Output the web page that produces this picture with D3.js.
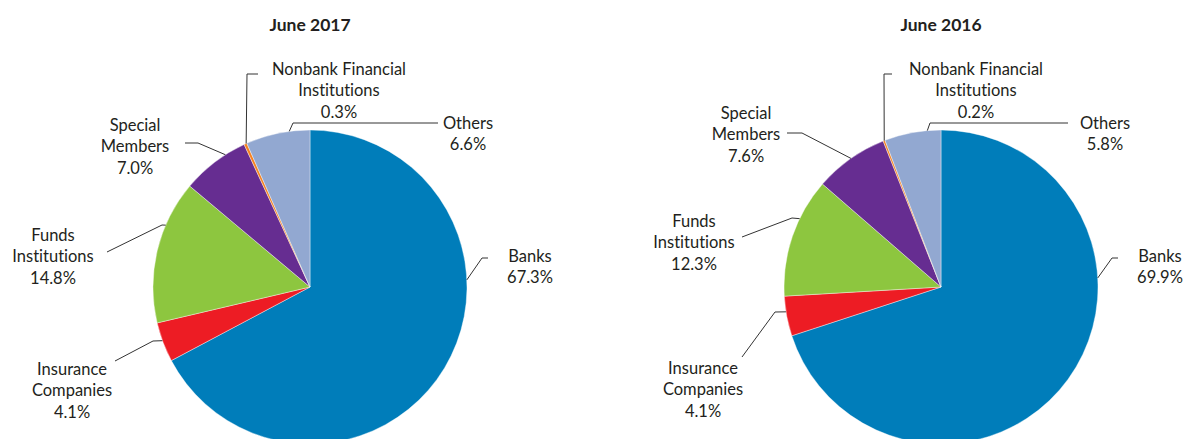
<!DOCTYPE html>
<html>
<head>
<meta charset="utf-8">
<script src="https://cdn.jsdelivr.net/npm/d3@7"></script>
<style>
  body { margin: 0; background: #fff; }
  text { font-family: Lato, "Open Sans", sans-serif; fill: #231f20; font-variant-ligatures: none; font-feature-settings: "liga" 0; }
</style>
</head>
<body>
<script>
var width = 1184, height = 439;

// data
var titles = ["June 2017", "June 2016"];
var categories = ["Banks", "Insurance Companies", "Funds Institutions", "Special Members", "Nonbank Financial Institutions", "Others"];
var labelLines = [["Banks"], ["Insurance", "Companies"], ["Funds", "Institutions"], ["Special", "Members"], ["Nonbank Financial", "Institutions"], ["Others"]];
var values2017 = [67.3, 4.1, 14.8, 7.0, 0.3, 6.6];
var values2016 = [69.9, 4.1, 12.3, 7.6, 0.2, 5.8];
var colors = ["#007dba", "#ed1c24", "#8dc63f", "#662d91", "#f58220", "#92a8d1"];

// label placement per chart: edge angle (deg), elbow, end, text centre (relative to pie centre)
var layout2017 = [
  {a: 87.4,  elbow: [172, -29],  end: [178, -29],   text: [220, -31]},
  {a: 250,   elbow: [-157, 54],  end: [-195, 74],   text: [-238, 82]},
  {a: -66.8, elbow: [-148, -62], end: [-203, -35],  text: [-257, -52]},
  {a: -32.6, elbow: [-112, -144], end: [-125, -144], text: [-175, -162]},
  {a: -24,   elbow: [-63, -213], end: [-52, -213],  text: [29, -218]},
  {a: -7.6,  elbow: [-17, -164], end: [128, -164],  text: [158, -164]}
];
var layout2016 = [
  {a: 86.7,  elbow: [171, -29],  end: [177, -29],   text: [219, -31]},
  {a: 260.9, elbow: [-166, 25],  end: [-199, 70],   text: [-238, 81]},
  {a: -64.2, elbow: [-149, -69], end: [-199, -50],  text: [-247, -66]},
  {a: -35,   elbow: [-139, -154], end: [-154, -154], text: [-195, -174]},
  {a: -21.2, elbow: [-57, -213], end: [-49, -213],  text: [35, -218]},
  {a: -5,    elbow: [-11, -164], end: [127, -164],  text: [164, -164]}
];

var charts = [
  {title: titles[0], values: values2017, cx: 310, cy: 287, layout: layout2017},
  {title: titles[1], values: values2016, cx: 941, cy: 287, layout: layout2016}
];

var radius = 157;
var lineH = 21.5;

var svg = d3.select("body")
  .append("svg")
  .attr("width", width)
  .attr("height", height);

var pie = d3.pie().sort(null).value(function(d) { return d; });
var arc = d3.arc().innerRadius(0).outerRadius(radius);

charts.forEach(function(c) {
  var g = svg.append("g")
    .attr("transform", "translate(" + c.cx + "," + c.cy + ")");

  svg.append("text")
    .attr("x", c.cx)
    .attr("y", 25)
    .attr("dy", "0.35em")
    .attr("text-anchor", "middle")
    .attr("font-weight", "bold")
    .attr("font-size", 17.5)
    .text(c.title);

  g.selectAll(".slice")
    .data(pie(c.values))
    .enter()
    .append("path")
    .attr("class", "slice")
    .attr("d", arc)
    .attr("fill", function(d, i) { return colors[i]; })
    .attr("stroke", "#fff")
    .attr("stroke-width", 0.4);

  // leader lines
  g.selectAll(".leader")
    .data(c.layout)
    .enter()
    .append("polyline")
    .attr("class", "leader")
    .attr("fill", "none")
    .attr("stroke", "#333")
    .attr("stroke-width", 1)
    .attr("points", function(l) {
      var p = d3.pointRadial(l.a * Math.PI / 180, radius);
      return [p, l.elbow, l.end].map(function(q) { return q.join(","); }).join(" ");
    });

  // labels
  var labels = g.selectAll(".label")
    .data(c.layout)
    .enter()
    .append("text")
    .attr("class", "label")
    .attr("text-anchor", "middle")
    .attr("font-size", 16.5);

  labels.each(function(l, i) {
    var lines = labelLines[i].concat([d3.format(".1f")(c.values[i]) + "%"]);
    var t = d3.select(this);
    lines.forEach(function(s, j) {
      t.append("tspan")
        .attr("x", l.text[0])
        .attr("y", l.text[1] + j * lineH)
        .attr("dy", "0.35em")
        .text(s);
    });
  });
});
</script>
</body>
</html>
